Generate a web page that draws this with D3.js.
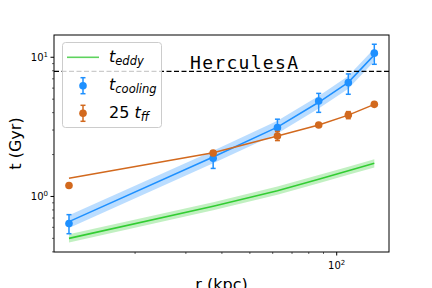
<!DOCTYPE html>
<html>
<head>
<meta charset="utf-8">
<script src="https://cdn.jsdelivr.net/npm/d3@7"></script>
<style>
  body { margin: 0; background: #fff; }
  svg { display: block; font-family: "DejaVu Sans", sans-serif; }
</style>
</head>
<body>
<svg id="chart" width="432" height="288"></svg>
<script>
// radii (kpc)
const radii = [11.8, 37.3, 62.3, 86.6, 109.7, 135]

// cooling time, measured points and errors
const tCool = [0.64, 1.88, 3.12, 4.85, 6.57, 10.7]
const tCoolLo = [0.54, 1.59, 2.68, 4.02, 5.42, 8.9]
const tCoolHi = [0.74, 2.09, 3.59, 5.5, 7.59, 12.4]
// cooling time model curve
const tCoolLine = [0.66, 1.92, 3.15, 4.75, 6.6, 10.4]

// 25 x free-fall time
const tFF = [1.2, 2.05, 2.72, 3.26, 3.84, 4.59]
const tFFLo = [1.17, 1.97, 2.52, 3.17, 3.62, 4.5]
const tFFHi = [1.23, 2.13, 2.93, 3.35, 4.07, 4.68]
const tFFLine = [1.35, 2.06, 2.72, 3.26, 3.84, 4.59]

// eddy turnover time
const tEddy = [0.5, 0.85, 1.1, 1.33, 1.53, 1.73]

const tHorizon = 7.93
const xMajor = [100]
const xMinor = [20, 30, 40, 50, 60, 70, 80, 90]
const yMajor = [1, 10]
const yMinor = [0.4, 0.5, 0.6, 0.7, 0.8, 0.9, 2, 3, 4, 5, 6, 7, 8, 9]

const blue = '#1e90ff'
const orange = '#d2691e'
const green = '#32cd32'

const svg = d3.select('#chart')
const pLeft = 54, pRight = 389, pTop = 35, pBottom = 252

const x = d3.scaleLog().domain([10.47, 151.8]).range([pLeft, pRight])
const y = d3.scaleLog().domain([0.399, 14.45]).range([pBottom, pTop])

const lineGen = d3.line().x(d => x(d[0])).y(d => y(d[1]))
const areaGen = d3.area().x(d => x(d[0])).y0(d => y(d[1])).y1(d => y(d[2]))

const plot = svg.append('g')

// bands
const coolBand = radii.map((r, i) => [r, tCoolLine[i] / 1.11, tCoolLine[i] * 1.11])
const eddyBand = radii.map((r, i) => [r, tEddy[i] / 1.07, tEddy[i] * 1.07])
plot.append('path').attr('d', areaGen(coolBand)).attr('fill', blue).attr('fill-opacity', 0.3)
plot.append('path').attr('d', areaGen(eddyBand)).attr('fill', green).attr('fill-opacity', 0.3)

// lines
plot.append('path').attr('d', lineGen(radii.map((r, i) => [r, tCoolLine[i]])))
  .attr('fill', 'none').attr('stroke', blue).attr('stroke-width', 1.5)
plot.append('path').attr('d', lineGen(radii.map((r, i) => [r, tEddy[i]])))
  .attr('fill', 'none').attr('stroke', green).attr('stroke-width', 1.6)
plot.append('path').attr('d', lineGen(radii.map((r, i) => [r, tFFLine[i]])))
  .attr('fill', 'none').attr('stroke', orange).attr('stroke-width', 1.5)

// horizontal dashed line
plot.append('line')
  .attr('x1', pLeft).attr('x2', pRight)
  .attr('y1', y(tHorizon)).attr('y2', y(tHorizon))
  .attr('stroke', '#000').attr('stroke-width', 1.3).attr('stroke-dasharray', '5,2.5')

function errorbars(vals, lo, hi, color) {
  const g = plot.append('g')
  radii.forEach((r, i) => {
    const cx = x(r)
    g.append('line').attr('x1', cx).attr('x2', cx).attr('y1', y(lo[i])).attr('y2', y(hi[i]))
      .attr('stroke', color).attr('stroke-width', 1.5)
    ;[lo[i], hi[i]].forEach(v => {
      g.append('line').attr('x1', cx - 2.5).attr('x2', cx + 2.5).attr('y1', y(v)).attr('y2', y(v))
        .attr('stroke', color).attr('stroke-width', 1.5)
    })
    g.append('circle').attr('cx', cx).attr('cy', y(vals[i])).attr('r', 3.8).attr('fill', color)
  })
}
errorbars(tCool, tCoolLo, tCoolHi, blue)
errorbars(tFF, tFFLo, tFFHi, orange)

// title text
svg.append('text')
  .attr('x', 190).attr('y', 69)
  .attr('font-family', '"DejaVu Sans Mono", monospace')
  .attr('font-size', 18)
  .attr('textLength', 108).attr('lengthAdjust', 'spacing')
  .text('HerculesA')

// frame
svg.append('rect').attr('x', pLeft).attr('y', pTop).attr('width', pRight - pLeft).attr('height', pBottom - pTop)
  .attr('fill', 'none').attr('stroke', '#000').attr('stroke-width', 1)

// ticks
const ax = svg.append('g')
xMajor.forEach(v => {
  ax.append('line').attr('x1', x(v)).attr('x2', x(v)).attr('y1', pBottom).attr('y2', pBottom + 3.5).attr('stroke', '#000')
  const t = ax.append('text').attr('x', x(v)).attr('y', pBottom + 17).attr('font-size', 10).attr('text-anchor', 'middle')
  t.append('tspan').text('10')
  t.append('tspan').attr('font-size', 7).attr('dy', -4).text(Math.round(Math.log10(v)))
})
xMinor.forEach(v => {
  ax.append('line').attr('x1', x(v)).attr('x2', x(v)).attr('y1', pBottom).attr('y2', pBottom + 2).attr('stroke', '#000').attr('stroke-width', 0.6)
})
yMajor.forEach(v => {
  ax.append('line').attr('x1', pLeft - 3.5).attr('x2', pLeft).attr('y1', y(v)).attr('y2', y(v)).attr('stroke', '#000')
  const t = ax.append('text').attr('x', pLeft - 6).attr('y', y(v) + 4).attr('font-size', 10).attr('text-anchor', 'end')
  t.append('tspan').text('10')
  t.append('tspan').attr('font-size', 7).attr('dy', -4).text(Math.round(Math.log10(v)))
})
yMinor.forEach(v => {
  ax.append('line').attr('x1', pLeft - 2).attr('x2', pLeft).attr('y1', y(v)).attr('y2', y(v)).attr('stroke', '#000').attr('stroke-width', 0.6)
})

// axis labels
svg.append('text').attr('x', (pLeft + pRight) / 2).attr('y', 290).attr('text-anchor', 'middle')
  .attr('font-size', 16).text('r (kpc)')
svg.append('text').attr('transform', `translate(21,${(pTop + pBottom) / 2}) rotate(-90)`)
  .attr('text-anchor', 'middle').attr('font-size', 16).text('t (Gyr)')

// legend
const lg = svg.append('g')
lg.append('rect').attr('x', 62.5).attr('y', 42.5).attr('width', 99).attr('height', 85).attr('rx', 3)
  .attr('fill', '#fff').attr('fill-opacity', 0.8).attr('stroke', '#ccc')
lg.append('line').attr('x1', 67).attr('x2', 99).attr('y1', 57.3).attr('y2', 57.3)
  .attr('stroke', '#5ed35e').attr('stroke-width', 1.6)
;[[85.7, blue], [113.3, orange]].forEach(([cy, c]) => {
  lg.append('line').attr('x1', 83).attr('x2', 83).attr('y1', cy - 8).attr('y2', cy + 8).attr('stroke', c).attr('stroke-width', 1.5)
  lg.append('line').attr('x1', 80.5).attr('x2', 85.5).attr('y1', cy - 8).attr('y2', cy - 8).attr('stroke', c).attr('stroke-width', 1.5)
  lg.append('line').attr('x1', 80.5).attr('x2', 85.5).attr('y1', cy + 8).attr('y2', cy + 8).attr('stroke', c).attr('stroke-width', 1.5)
  lg.append('circle').attr('cx', 83).attr('cy', cy).attr('r', 3.8).attr('fill', c)
})
function legendText(yy, pre, sub) {
  const t = lg.append('text').attr('x', 109).attr('y', yy).attr('font-size', 16)
  if (pre) t.append('tspan').text(pre)
  t.append('tspan').attr('font-style', 'italic').text('t')
  t.append('tspan').attr('font-style', 'italic').attr('font-size', 11.5).attr('dy', 3).text(sub)
}
legendText(62, null, 'eddy')
legendText(90, null, 'cooling')
legendText(118, '25 ', 'ff')
</script>
</body>
</html>
